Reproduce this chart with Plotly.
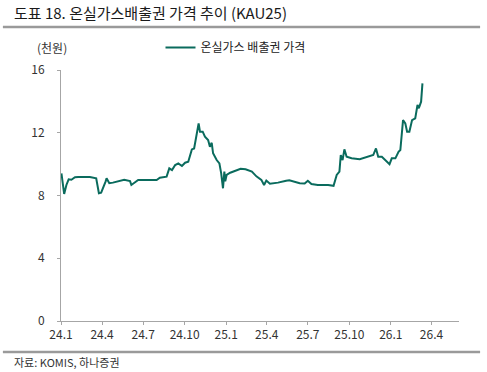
import plotly.graph_objects as go

# ---- data ----
dates = [
    "2024-01-02", "2024-01-05", "2024-01-08", "2024-01-13", "2024-01-18", "2024-01-24",
    "2024-02-01", "2024-02-08", "2024-02-19", "2024-03-05", "2024-03-19", "2024-03-25",
    "2024-03-30", "2024-04-05", "2024-04-09", "2024-04-11", "2024-04-17", "2024-04-25",
    "2024-05-13", "2024-05-20", "2024-06-02", "2024-06-05", "2024-06-20", "2024-07-10",
    "2024-07-31", "2024-08-07", "2024-08-22", "2024-08-28", "2024-09-03", "2024-09-10",
    "2024-09-17", "2024-09-25", "2024-10-02", "2024-10-09", "2024-10-17", "2024-10-22",
    "2024-10-28", "2024-11-01", "2024-11-04", "2024-11-10", "2024-11-15", "2024-11-22",
    "2024-11-26", "2024-11-30", "2024-12-03", "2024-12-11", "2024-12-17", "2024-12-21",
    "2024-12-25", "2024-12-28", "2024-12-30", "2025-01-02", "2025-01-10", "2025-02-02",
    "2025-02-13", "2025-02-27", "2025-03-09", "2025-03-20", "2025-03-26", "2025-03-31",
    "2025-04-08", "2025-04-26", "2025-05-14", "2025-05-21", "2025-06-13", "2025-06-24",
    "2025-07-01", "2025-07-09", "2025-07-23", "2025-08-15", "2025-08-27", "2025-09-03",
    "2025-09-09", "2025-09-12", "2025-09-16", "2025-09-20", "2025-09-25", "2025-10-06",
    "2025-10-24", "2025-11-08", "2025-11-23", "2025-11-29", "2025-12-04", "2025-12-12",
    "2025-12-23", "2025-12-29", "2026-01-03", "2026-01-11", "2026-01-18", "2026-01-22",
    "2026-01-28", "2026-02-02", "2026-02-06", "2026-02-11", "2026-02-17", "2026-02-24",
    "2026-03-01", "2026-03-04", "2026-03-09", "2026-03-12",
]
prices = [
    9.41, 8.60, 8.10, 8.67, 9.03, 9.00,
    9.16, 9.18, 9.20, 9.18, 9.10, 8.14,
    8.18, 8.56, 8.90, 9.10, 8.78, 8.82,
    8.94, 9.00, 8.92, 8.67, 8.99, 8.99,
    8.99, 9.13, 9.20, 9.73, 9.62, 9.94,
    10.05, 9.88, 10.09, 10.15, 10.94, 11.00,
    11.96, 12.60, 12.07, 12.07, 11.75, 11.54,
    11.11, 11.36, 10.69, 10.26, 10.05, 9.41,
    8.46, 9.52, 8.90, 9.31, 9.45, 9.70,
    9.67, 9.52, 9.22, 9.00, 8.67, 8.95,
    8.75, 8.82, 8.94, 8.97, 8.78, 8.76,
    8.94, 8.73, 8.67, 8.67, 8.62, 9.31,
    9.52, 10.58, 10.26, 10.94, 10.47, 10.37,
    10.31, 10.47, 10.58, 11.00, 10.47, 10.47,
    10.15, 10.00, 10.37, 10.37, 10.79, 10.90,
    12.81, 12.60, 12.07, 12.07, 12.81, 12.92,
    13.77, 13.56, 13.98, 15.15,
]
series_name = "온실가스 배출권 가격"
tick_dates = ["2024-01-01", "2024-04-01", "2024-07-01", "2024-10-01", "2025-01-01",
              "2025-04-01", "2025-07-01", "2025-10-01", "2026-01-01", "2026-04-01"]
tick_labels = ["24.1", "24.4", "24.7", "24.10", "25.1", "25.4", "25.7", "25.10", "26.1", "26.4"]
y_ticks = [0, 4, 8, 12, 16]

title_text = "도표 18. 온실가스배출권 가격 추이 (KAU25)"
unit_text = "(천원)"
source_text = "자료: KOMIS, 하나증권"

FONT = "Noto Sans CJK KR"
AXIS = "#a6a6a6"
LINE = "#0a6b5d"

fig = go.Figure()
fig.add_trace(go.Scatter(
    x=dates, y=prices, mode="lines", name=series_name,
    line=dict(color=LINE, width=2),
))

fig.update_layout(
    width=487, height=372,
    margin=dict(l=61, r=28, t=70, b=51),
    paper_bgcolor="white", plot_bgcolor="white",
    font=dict(family=FONT, size=12, color="#333333"),
    showlegend=True,
    legend=dict(
        orientation="h", x=0.25, y=1.09, xanchor="left", yanchor="middle",
        font=dict(size=12, color="#222222"), bgcolor="rgba(0,0,0,0)",
        itemwidth=30,
    ),
    xaxis=dict(
        type="date", range=["2024-01-01", "2026-06-01"],
        tickvals=tick_dates, ticktext=tick_labels,
        showgrid=False, zeroline=False,
        showline=True, linecolor=AXIS, linewidth=1,
        ticks="outside", ticklen=3, tickcolor=AXIS,
        tickfont=dict(size=12, color="#333333"),
    ),
    yaxis=dict(
        range=[0, 16], tickvals=y_ticks,
        showgrid=False, zeroline=False,
        showline=True, linecolor=AXIS, linewidth=1,
        ticks="outside", ticklen=3, tickcolor=AXIS,
        ticklabelstandoff=10,
        tickfont=dict(size=12, color="#333333"),
    ),
    shapes=[
        dict(type="line", xref="paper", yref="paper", x0=-0.146, x1=1.053,
             y0=1.171, y1=1.171, line=dict(color="#9a9a9a", width=2.5)),
        dict(type="line", xref="paper", yref="paper", x0=-0.146, x1=1.053,
             y0=-0.1235, y1=-0.1235, line=dict(color="#9a9a9a", width=2.5)),
    ],
    annotations=[
        dict(text=title_text, xref="paper", yref="paper", x=-0.124, y=1.231,
             xanchor="left", yanchor="middle", showarrow=False,
             font=dict(size=15, color="#1a1a1a", family=FONT)),
        dict(text=unit_text, xref="paper", yref="paper", x=-0.065, y=1.088,
             xanchor="left", yanchor="middle", showarrow=False,
             font=dict(size=12, color="#333333", family=FONT)),
        dict(text=source_text, xref="paper", yref="paper", x=-0.124, y=-0.165,
             xanchor="left", yanchor="middle", showarrow=False,
             font=dict(size=11, color="#333333", family=FONT)),
    ],
)

fig.write_html("out.html", config={"displayModeBar": False},
               post_script="document.body.style.margin='0';")
